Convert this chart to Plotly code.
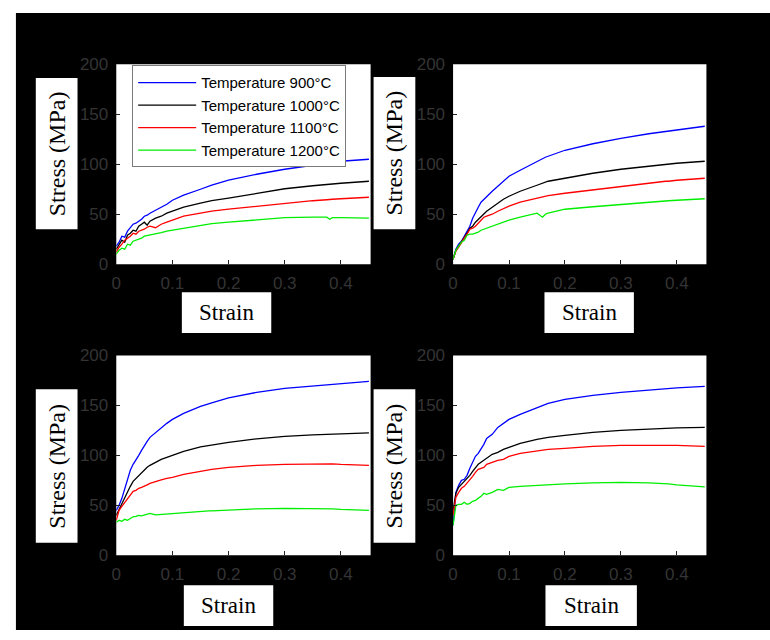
import plotly.graph_objects as go

# Strain sampling shared by every flow curve
strain = [0, 0.005, 0.01, 0.015, 0.02, 0.025, 0.03, 0.035, 0.04, 0.045, 0.05,
          0.055, 0.06, 0.07, 0.08, 0.09, 0.10, 0.12, 0.15, 0.16, 0.165, 0.17,
          0.2, 0.25, 0.3, 0.35, 0.375, 0.38, 0.385, 0.4, 0.45]

temperatures = ["Temperature 900\u00b0C", "Temperature 1000\u00b0C",
                "Temperature 1100\u00b0C", "Temperature 1200\u00b0C"]

# Panel (a): top left
stress_a_900 = [18, 22, 28, 27, 33, 36, 40, 41, 43, 45, 48, 49, 51, 54, 57, 60, 64, 69, 75, 77, 78, 79,
                84, 90, 95, 99, 101, 101.5, 102, 103, 105]
stress_a_1000 = [15, 20, 24, 22, 29, 31, 34, 33, 38, 40, 42, 39, 43, 46, 48, 51, 53, 57, 61, 62.5, 63, 63.5,
                 66, 71, 75.5, 78.5, 80, 80, 80.5, 81, 83]
stress_a_1100 = [12, 17, 20, 24, 26, 28, 31, 30, 33, 34, 35, 37, 38, 36.5, 40, 42, 44, 48, 51, 52, 52.5, 53,
                 55, 58, 61, 63.5, 64.5, 64.5, 65, 65.5, 67]
stress_a_1200 = [10, 14, 16, 15, 20, 19, 23, 24, 25, 26, 28, 28.5, 29, 30.5, 31.5, 33, 34, 36, 39, 40, 40, 40.5,
                 42, 44.5, 46.5, 47, 47, 45, 46.5, 46.5, 46]

# Panel (b): top right
stress_b_900 = [5, 15, 20, 23, 28, 33, 38, 46, 52, 57, 62, 65, 68, 73, 78, 83, 88, 94, 103, 105.5, 107, 108,
                114, 120.5, 126, 130.5, 132.5, 133, 133, 134.5, 138]
stress_b_1000 = [5, 14, 18, 22, 26, 31, 36, 38, 42, 45, 48, 51, 53, 57, 61, 65, 68, 73, 79, 81, 82, 83,
                 86, 91, 95, 98, 99.5, 100, 100, 101, 103]
stress_b_1100 = [5, 13, 17, 22, 26, 30, 35, 36, 38, 41, 44, 47, 48, 50, 53, 55.5, 58, 62, 66, 67.5, 68, 68.5,
                 71, 74.5, 78, 81, 82.5, 83, 83, 84, 86]
stress_b_1200 = [5, 14, 18, 22, 24, 29, 30, 30, 31, 32, 34, 35, 36, 38, 40, 42, 44, 47, 51, 47, 50, 51,
                 55, 57.5, 60, 62, 63, 63.5, 63.5, 64, 65.5]

# Panel (c): bottom left
stress_c_900 = [45, 50, 57, 66, 76, 85, 91, 95, 100, 105, 110, 114, 118, 123, 128, 132, 136, 142, 149, 150.5,
                151.5, 152.5, 157.5, 163, 167, 169.5, 170.5, 170.5, 171, 171.5, 174]
stress_c_1000 = [40, 46, 52, 58, 64, 69, 74, 77, 80, 83, 86, 88, 90, 93, 96, 98, 100, 104, 108.5, 109.5,
                 110, 110.5, 113, 116.5, 119, 120.5, 121, 121, 121.5, 121.5, 122.5]
stress_c_1100 = [35, 45, 49, 53, 57, 61, 64, 65, 67, 68, 69, 70.5, 72, 74, 75.5, 77, 78, 81, 84, 85, 85.5, 86,
                 88, 90, 91, 91.5, 91.5, 91.5, 91.5, 91, 90]
stress_c_1200 = [33, 35, 34, 36, 35, 37, 38.5, 39, 40, 39.5, 40.5, 41, 42, 40.5, 41, 41.5, 42, 43, 44, 44.5,
                 44.5, 44.5, 45.5, 46.5, 47, 47, 46.5, 46.5, 46.5, 46, 45]

# Panel (d): bottom right
stress_d_900 = [30, 63, 70, 75, 76, 80, 87, 93, 99, 102, 106, 111, 117, 121, 128, 132, 136, 141, 148, 150,
                151, 152, 156, 160, 163, 165.5, 166.5, 167, 167, 167.5, 169]
stress_d_1000 = [45, 62, 68, 71, 73, 76, 80, 84, 88, 91, 93, 95, 97, 101, 103, 106, 108, 112, 116, 117,
                 117.5, 118, 120, 123, 125, 126.5, 127, 127, 127, 127.5, 128]
stress_d_1100 = [40, 58, 63, 67, 69, 72, 75, 79, 83, 86, 87, 88, 91, 93, 95, 96, 99, 102, 104.5, 105, 105.5,
                 106, 107, 109, 110, 110, 110, 110, 110, 110, 109]
stress_d_1200 = [30, 50, 51, 51, 53, 51, 52, 54, 55, 57, 59, 62, 61, 63, 66, 65, 68, 69, 70, 70.5, 70.5, 71,
                 71.5, 72.5, 73, 72.5, 72, 71.5, 71.5, 70.5, 68.5]

panels = [
    [stress_a_900, stress_a_1000, stress_a_1100, stress_a_1200],
    [stress_b_900, stress_b_1000, stress_b_1100, stress_b_1200],
    [stress_c_900, stress_c_1000, stress_c_1100, stress_c_1200],
    [stress_d_900, stress_d_1000, stress_d_1100, stress_d_1200],
]

x_ticks = [0, 0.1, 0.2, 0.3, 0.4]
x_tick_labels = ["0", "0.1", "0.2", "0.3", "0.4"]
y_ticks = [0, 50, 100, 150, 200]
y_tick_labels = ["0", "50", "100", "150", "200"]

colors = ["#0000ff", "#000000", "#ff0000", "#00ee00"]

W, H = 770, 640
# plot-area pixel boxes (left, top, right, bottom)
boxes = [(112, 57, 368, 263), (451, 57, 706, 263),
         (112, 357, 368, 563), (451, 357, 706, 563)]

fig = go.Figure()
layout = dict(
    width=W, height=H,
    margin=dict(l=0, r=0, t=0, b=0),
    paper_bgcolor="white",
    plot_bgcolor="white",
    showlegend=True,
    legend=dict(x=128 / W, y=1 - 58 / H, xanchor="left", yanchor="top",
                bgcolor="white", bordercolor="#7a7a7a", borderwidth=1,
                font=dict(family="Liberation Sans, Arial", size=15, color="black"),
                itemwidth=58, tracegroupgap=0),
)

tick_font = dict(family="Liberation Sans, Arial", size=17, color="#343434")

shapes = [dict(type="rect", xref="paper", yref="paper", x0=11 / W, x1=1,
               y0=0, y1=1 - 4 / H, fillcolor="black", line_width=0, layer="below")]
annotations = []

for i, (l, t, r, b) in enumerate(boxes):
    suffix = "" if i == 0 else str(i + 1)
    xa, ya = "x" + suffix, "y" + suffix
    layout["xaxis" + suffix] = dict(
        domain=[l / W, r / W], anchor=ya, range=[0, 0.453],
        tickmode="array", tickvals=x_ticks, ticktext=x_tick_labels,
        ticks="inside", ticklen=4, tickcolor="#222", tickwidth=1,
        showgrid=False, zeroline=False, showline=False,
        tickfont=tick_font, fixedrange=True, ticklabelstandoff=7,
    )
    layout["yaxis" + suffix] = dict(
        domain=[1 - b / H, 1 - t / H], anchor=xa, range=[0, 200],
        tickmode="array", tickvals=y_ticks, ticktext=y_tick_labels,
        ticks="inside", ticklen=4, tickcolor="#222", tickwidth=1,
        showgrid=False, zeroline=False, showline=False,
        tickfont=tick_font, fixedrange=True, ticklabelstandoff=7,
    )
    shapes.append(dict(type="rect", xref=xa + " domain", yref=ya + " domain",
                       x0=0, x1=1, y0=0, y1=1, fillcolor="white",
                       line_width=0, layer="below"))
    for k, series in enumerate(panels[i]):
        fig.add_trace(go.Scatter(
            x=strain, y=series, mode="lines", name=temperatures[k],
            line=dict(color=colors[k], width=1.3),
            xaxis=xa, yaxis=ya, showlegend=(i == 0),
        ))

# White label boxes: (x0, y0, x1, y1) in pixels
stress_boxes = [(31, 71, 73, 227), (371, 70, 413, 227),
                (31, 392, 73, 550), (371, 392, 413, 550)]
strain_boxes = [(178, 292, 268, 334), (543, 292, 633, 334),
                (180, 594, 270, 636), (544, 594, 636, 636)]

label_font = dict(family="Liberation Serif, Times New Roman", color="black")
for (x0, y0, x1, y1) in stress_boxes:
    shapes.append(dict(type="rect", xref="paper", yref="paper",
                       x0=x0 / W, x1=x1 / W, y0=1 - y1 / H, y1=1 - y0 / H,
                       fillcolor="white", line_width=0, layer="below"))
    annotations.append(dict(text="Stress (MPa)", xref="paper", yref="paper",
                            x=(x0 + x1) / 2 / W, y=1 - (y0 + y1) / 2 / H,
                            xanchor="center", yanchor="middle",
                            showarrow=False, textangle=-90,
                            font=dict(size=24, **label_font)))
for (x0, y0, x1, y1) in strain_boxes:
    shapes.append(dict(type="rect", xref="paper", yref="paper",
                       x0=x0 / W, x1=x1 / W, y0=1 - y1 / H, y1=1 - y0 / H,
                       fillcolor="white", line_width=0, layer="below"))
    annotations.append(dict(text="Strain", xref="paper", yref="paper",
                            x=(x0 + x1) / 2 / W, y=1 - (y0 + y1) / 2 / H,
                            xanchor="center", yanchor="middle",
                            showarrow=False,
                            font=dict(size=23, **label_font)))

layout["shapes"] = shapes
layout["annotations"] = annotations
fig.update_layout(**layout)

fig.write_html("out.html")
